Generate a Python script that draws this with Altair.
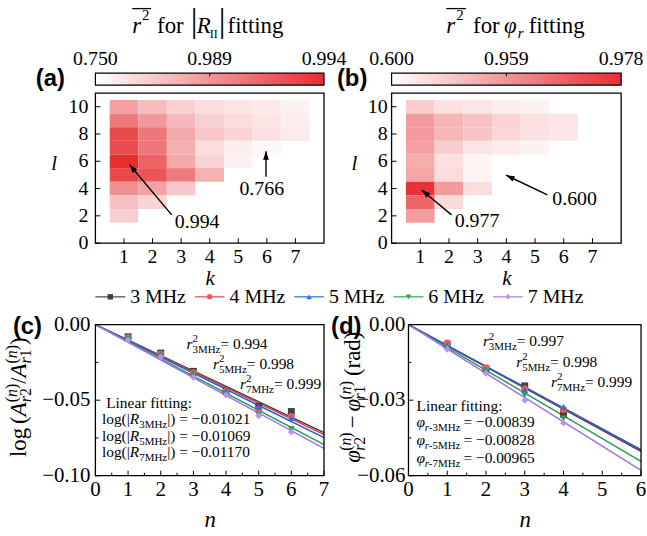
import math
import altair as alt
import pandas as pd

SERIF = "Liberation Serif"
SANS = "Liberation Sans"

# ---------------- data: heatmaps of mean r^2 (rows l = 10 ... 2, columns k = 1 ...) ----------------
k_vals = [1, 2, 3, 4, 5, 6, 7]
l_vals = [10, 9, 8, 7, 6, 5, 4, 3, 2]
l_ticks = [0, 2, 4, 6, 8, 10]
heat_a = [
    [0.960, 0.898, 0.855, 0.826, 0.812, 0.798, 0.779],
    [0.9903, 0.979, 0.908, 0.855, 0.831, 0.812, 0.788],
    [0.9926, 0.9904, 0.941, 0.874, 0.846, 0.817, 0.798],
    [0.9925, 0.9905, 0.927, 0.826, 0.788, 0.766],
    [0.994, 0.9914, 0.941, 0.846, 0.779],
    [0.9927, 0.9921, 0.9903, 0.927],
    [0.9893, 0.960, 0.874],
    [0.889, 0.846],
    [0.855],
]
heat_b = [
    [0.772, 0.701, 0.686, 0.657, 0.643],
    [0.937, 0.844, 0.808, 0.744, 0.708, 0.686],
    [0.937, 0.844, 0.794, 0.736, 0.701, 0.679],
    [0.916, 0.772, 0.693, 0.672, 0.643],
    [0.880, 0.701, 0.636],
    [0.902, 0.722, 0.636],
    [0.977, 0.937, 0.715],
    [0.9674, 0.729],
    [0.930],
]
cbar_a_ticks = [0.750, 0.989, 0.994]
cbar_b_ticks = [0.600, 0.959, 0.978]

# ---------------- data: decay curves ----------------
freqs = ["3 MHz", "4 MHz", "5 MHz", "6 MHz", "7 MHz"]
n_c = [1, 2, 3, 4, 5, 6]
c_data = {
    "3 MHz": [-0.0080, -0.0188, -0.0309, -0.0439, -0.0541, -0.0575],
    "4 MHz": [-0.0085, -0.0195, -0.0318, -0.0440, -0.0560, -0.0607],
    "5 MHz": [-0.0090, -0.0200, -0.0322, -0.0435, -0.0544, -0.0618],
    "6 MHz": [-0.0095, -0.0208, -0.0340, -0.0461, -0.0597, -0.0691],
    "7 MHz": [-0.0102, -0.0215, -0.0349, -0.0465, -0.0603, -0.0710],
}
c_slopes = [-0.01021, -0.01040, -0.01069, -0.01135, -0.01170]
c_r2 = ["0.994", "0.998", "0.999"]

n_d = [1, 2, 3, 4]
d_data = {
    "3 MHz": [-0.0078, -0.0175, -0.0243, -0.0356],
    "4 MHz": [-0.0073, -0.0171, -0.0255, -0.0337],
    "5 MHz": [-0.0082, -0.0177, -0.0260, -0.0327],
    "6 MHz": [-0.0093, -0.0183, -0.0280, -0.0373],
    "7 MHz": [-0.0098, -0.0193, -0.0300, -0.0391],
}
d_slopes = [-0.00839, -0.00832, -0.00828, -0.00905, -0.00965]
d_r2 = ["0.997", "0.998", "0.999"]

labelled = ["3MHz", "5MHz", "7MHz"]          # the three fits written on the panels
labelled_idx = [0, 2, 4]

# ---------------- styles ----------------
line_colors = ["#3a3a3a", "#e83a3a", "#1c5fd8", "#2a9d52", "#a56fe8"]
marker_colors = ["#404040", "#ef5a5a", "#2e6fe3", "#2ea35a", "#b98ff0"]
shapes = ["square", "circle", "triangle-up", "triangle-down", "diamond"]
HEAT_RANGE = ["#ffffff", "#f29496", "#e62e31"]
GRAD = alt.LinearGradient(
    gradient="linear", x1=0, x2=1, y1=0, y2=0,
    stops=[alt.GradientStop(color="#ffffff", offset=0),
           alt.GradientStop(color="#f29496", offset=0.5),
           alt.GradientStop(color="#e62e31", offset=1)])
ARROW = "M0,0L0.65,1.9L-0.65,1.9Z"

ONE = pd.DataFrame({"z": [0]})

W_UP = {" ": 250, "(": 333, ")": 333, "|": 200, "-": 333, "=": 564, "\u2212": 564, "/": 278,
        ".": 250, ":": 278, "A": 722, "H": 722, "I": 333, "L": 611, "M": 889, "R": 667,
        "a": 444, "d": 500, "e": 444, "f": 333, "g": 500, "i": 278, "k": 500, "l": 278,
        "n": 500, "o": 500, "r": 333, "s": 389, "t": 278, "z": 444}
W_IT = {"r": 389, "A": 611, "R": 611, "n": 500, "\u03c6": 520, "k": 444, "l": 278}

AX = dict(labels=False, domain=False, ticks=False, grid=False)


def row(**kw):
    return pd.DataFrame({k: [v] for k, v in kw.items()})


def qx(f, noaxis=False, **kw):
    if noaxis:
        kw["axis"] = None
    return alt.X(f"{f}:Q", **kw)


def qy(f, noaxis=False, **kw):
    if noaxis:
        kw["axis"] = None
    return alt.Y(f"{f}:Q", **kw)


def tw(t, s, it):
    tab = W_IT if it else W_UP
    return sum(tab.get(c, 500) for c in t) * s / 1000.0


def layout(items):
    out, x = [], 0.0
    for item in items:
        if item[0] == "gap":
            x += item[1]
        elif item[0] == "stack":
            w = 0.0
            for grp in item[1:]:
                gx = x
                for (t, s, it, dy) in grp:
                    out.append((t, s, it, gx, dy))
                    gx += tw(t, s, it)
                w = max(w, gx - x)
            x += w
        else:
            _, t, s, it, dy = item
            out.append((t, s, it, x, dy))
            x += tw(t, s, it)
    return out, x


def text_piece(t, s, it, dx, dy, where, angle=0):
    props = dict(text=t, font=SERIF, fontSize=s, fontStyle="italic" if it else "normal",
                 align="left", baseline="alphabetic", dx=round(dx, 1), dy=dy, color="black")
    if angle:
        props["angle"] = angle
    mode, a, b = where
    if mode == "data":
        return alt.Chart(row(a=a, b=b)).mark_text(**props).encode(x=qx("a"), y=qy("b"))
    return alt.Chart(ONE).mark_text(**props).encode(x=alt.value(a), y=alt.value(b))


def compose(items, where, angle=0, center=False):
    pieces, total = layout(items)
    off = -total / 2.0 if center else 0.0
    return [text_piece(t, s, it, dx + off, dy, where, angle) for t, s, it, dx, dy in pieces]


def frame(x0, x1, y0, y1):
    return alt.Chart(row(a=x0, b=x1, c=y0, d=y1)).mark_rect(
        fillOpacity=0, stroke="black", strokeWidth=1.3).encode(
        x=qx("a"), x2="b", y=qy("c"), y2="d")


def box(x0, x1, y0, y1, noaxis=False):
    # white 1-px box used to pin the page origin
    return alt.Chart(row(a=x0, b=x1, c=y0, d=y1)).mark_rect(fill="white", strokeWidth=0).encode(
        x=qx("a", noaxis), x2="b", y=qy("c", noaxis), y2="d")


def xticks(vals, y0, size):
    return alt.Chart(pd.DataFrame({"t": vals, "b": [y0] * len(vals)})).mark_rule(
        color="black", strokeWidth=1, y2Offset=-size).encode(x=qx("t"), y=qy("b"), y2="b")


def yticks(vals, x0, size):
    return alt.Chart(pd.DataFrame({"t": vals, "b": [x0] * len(vals)})).mark_rule(
        color="black", strokeWidth=1, x2Offset=size).encode(y=qy("t"), x=qx("b"), x2="b")


def num_label(v, dec):
    if dec == 0:
        return f"{v:d}"
    s = f"{abs(v):.{dec}f}"
    return ("\u2212" + s) if v < 0 else s


def xlabels(vals, dec, y0, pad, size):
    df = pd.DataFrame({"t": vals, "lab": [num_label(v, dec) for v in vals], "b": [y0] * len(vals)})
    return alt.Chart(df).mark_text(baseline="top", align="center", dy=pad, fontSize=size,
                                   color="black").encode(x=qx("t"), y=qy("b"), text="lab:N")


def ylabels(vals, dec, x0, pad, size):
    df = pd.DataFrame({"t": vals, "lab": [num_label(v, dec) for v in vals], "b": [x0] * len(vals)})
    return alt.Chart(df).mark_text(baseline="middle", align="right", dx=-pad, fontSize=size,
                                   color="black").encode(y=qy("t"), x=qx("b"), text="lab:N")


def plabel(txt, x, y):
    return alt.Chart(ONE).mark_text(text=txt, font=SANS, fontWeight="bold", fontSize=24,
                                    align="left", baseline="middle", color="black").encode(
        x=alt.value(x), y=alt.value(y))


# ---------------- colorbars ----------------
def cbar_panel(ticks, width, title_pieces, title_x, over, plab, plab_x, pin=False):
    pos = [i / (len(ticks) - 1) for i in range(len(ticks))]
    labs = pd.DataFrame({"p": pos, "lab": [f"{t:.3f}" for t in ticks], "b": [1] * len(ticks)})
    xsc = alt.Scale(domain=[0, 1], nice=False, zero=False)
    ysc = alt.Scale(domain=[0, 1], nice=False, zero=False)
    bar = alt.Chart(row(a=0, b=1, c=0, d=1)).mark_rect(fill=GRAD, stroke="black", strokeWidth=1.2).encode(
        x=qx("a", True, scale=xsc), x2="b", y=qy("c", True, scale=ysc), y2="d")
    mid = alt.Chart(row(a=0.5, b=1)).mark_rule(color="black", strokeWidth=1, y2Offset=3).encode(
        x=qx("a", True), y=qy("b", True), y2="b")
    text = alt.Chart(labs).mark_text(fontSize=20, baseline="alphabetic", dy=-8, color="black").encode(
        x=qx("p", True), y=qy("b", True), text="lab:N")
    title = [text_piece(t, s, it, dx, dy, ("value", title_x, -40)) for t, s, it, dx, dy in title_pieces]
    overline = alt.Chart(row(a=over[0] / width, b=over[1] / width, c=1 + 65 / 12.0)).mark_rule(
        color="black", strokeWidth=1.3).encode(x=qx("a", True), x2="b", y=qy("c", True))
    layers = [bar, mid, text, overline, plabel(plab, plab_x, 6)] + title
    if pin:
        layers.append(box(0, 1.0 / width, 1 + 71 / 12.0, 1 + 72 / 12.0, noaxis=True))
    return alt.layer(*layers).properties(width=width, height=12)


title_a = [("r", 23, True, 0, 0), ("2", 15, False, 10, -14), ("for", 23, False, 25, 0),
           ("|", 34, False, 59, -1), ("R", 23, True, 65, 0), ("II", 12, False, 78, 5),
           ("|", 34, False, 87, -1), ("fitting", 23, False, 96, 0)]
title_b = [("r", 23, True, 0, 0), ("2", 15, False, 10, -14), ("for", 23, False, 27, 0),
           ("\u03c6", 23, True, 58, 0), ("r", 15, True, 72, 5), ("fitting", 23, False, 83, 0)]

cbA = cbar_panel(cbar_a_ticks, 230, title_a, 37, (37, 56), "(a)", -60, pin=True)
cbB = cbar_panel(cbar_b_ticks, 231, title_b, 55, (55, 75), "(b)", -55)


# ---------------- heatmaps ----------------
def heat_panel(rows, ticks, width, ylab_pad, ytitle_x, arrows, notes):
    df = pd.DataFrame([{"k": k, "l": l, "r2": v}
                       for l, row_ in zip(l_vals, rows) for k, v in zip(k_vals, row_)])
    xsc = alt.Scale(domain=[0, 8], nice=False, zero=False)
    ysc = alt.Scale(domain=[0, 11], nice=False, zero=False)
    cells = alt.Chart(df).transform_calculate(
        k0="datum.k - 0.5", k1="datum.k + 0.5", l0="datum.l - 0.5", l1="datum.l + 0.5"
    ).mark_rect(strokeWidth=0).encode(
        x=alt.X("k0:Q", scale=xsc, axis=alt.Axis(
            values=k_vals, title="k", titleFontSize=21, titleFontStyle="italic", titleY=42,
            titleBaseline="alphabetic", **AX)),
        x2="k1:Q",
        y=alt.Y("l0:Q", scale=ysc, axis=alt.Axis(
            values=l_ticks, title="l", titleFontSize=21, titleFontStyle="italic", titleAngle=0,
            titleX=ytitle_x, titleY=71, titleBaseline="middle", titleAlign="center", **AX)),
        y2="l1:Q",
        color=alt.Color("r2:Q", scale=alt.Scale(domain=ticks, range=HEAT_RANGE, interpolate="rgb"),
                        legend=None),
    )
    layers = [cells, frame(0, 8, 0, 11), xticks(k_vals, 0, 5), yticks(l_ticks, 0, 5),
              xlabels(k_vals, 0, 0, 4, 20), ylabels(l_ticks, 0, 0, ylab_pad, 20)]
    pxk, pxl = width / 8.0, 151 / 11.0
    for (k0, l0, k1, l1) in arrows:
        ang = math.degrees(math.atan2((k1 - k0) * pxk, (l1 - l0) * pxl)) % 360
        layers.append(alt.Chart(row(a=k0, b=l0, c=k1, d=l1)).mark_rule(color="black", strokeWidth=1.4).encode(
            x=qx("a"), y=qy("b"), x2="c", y2="d"))
        layers.append(alt.Chart(row(a=k1, b=l1)).mark_point(
            shape=ARROW, filled=True, color="black", size=81, opacity=1,
            angle=round(ang, 1), strokeWidth=0).encode(x=qx("a"), y=qy("b")))
    for (txt, k, l) in notes:
        layers.append(alt.Chart(row(a=k, b=l)).mark_text(
            text=txt, fontSize=20, align="left", baseline="alphabetic", color="black").encode(
            x=qx("a"), y=qy("b")))
    return alt.layer(*layers).properties(width=width, height=151)


heatA = heat_panel(heat_a, cbar_a_ticks, 230, 7, -42,
                   arrows=[(2.67, 2.07, 1.19, 5.76), (5.97, 4.86, 5.97, 6.73)],
                   notes=[("0.994", 2.78, 1.13), ("0.766", 5.04, 3.53)])
heatB = heat_panel(heat_b, cbar_b_ticks, 231, 4, -38,
                   arrows=[(2.09, 2.07, 1.05, 3.89), (5.43, 3.53, 3.99, 4.98)],
                   notes=[("0.977", 2.2, 1.2), ("0.600", 5.6, 2.8)])

# ---------------- legend row ----------------
leg_base = alt.Chart(pd.DataFrame({"series": freqs})).transform_window(i="row_number()")
lx = alt.X("i:Q", scale=alt.Scale(domain=[1, len(freqs)], range=[15, 415], nice=False, zero=False),
           axis=None)
leg_lines = leg_base.mark_rule(xOffset=-15, x2Offset=15, strokeWidth=1.6, opacity=0.7).encode(
    x=lx, x2="i", y=alt.value(46),
    color=alt.Color("series:N", scale=alt.Scale(domain=freqs, range=line_colors), legend=None))
leg_pts = leg_base.mark_point(filled=True, size=30, opacity=1).encode(
    x=lx, y=alt.value(46),
    color=alt.Color("series:N", scale=alt.Scale(domain=freqs, range=marker_colors), legend=None),
    shape=alt.Shape("series:N", scale=alt.Scale(domain=freqs, range=shapes), legend=None))
leg_txt = leg_base.mark_text(align="left", baseline="middle", fontSize=20, dx=20,
                             color="black").encode(x=lx, y=alt.value(46), text="series:N")
legend_chart = alt.layer(leg_lines, leg_pts, leg_txt).resolve_scale(color="independent").properties(
    width=230, height=66)
dummy = alt.Chart(ONE).mark_point(opacity=0).encode(x=alt.value(0), y=alt.value(0)).properties(
    width=231, height=66)


# ---------------- curve panels ----------------
def curve_panel(data, n_vals, slopes, xmax, ymin, ymaj, yminor, width, shift, ylab_pad,
                r2_vals, r2_pos, fit_pos, fit_lines, ytitle_items, ytitle_x, plab, plab_x, pin=False):
    xdom_min = -shift * xmax / (width - shift)
    ppu = width / (xmax - xdom_min)
    xsc = alt.Scale(domain=[xdom_min, xmax], nice=False, zero=False)
    ysc = alt.Scale(domain=[ymin, 0], nice=False, zero=False)
    df = pd.DataFrame([{"series": f, "n": n, "v": v}
                       for f in freqs for n, v in zip(n_vals, data[f])])
    fit = pd.DataFrame({"series": freqs, "slope": slopes})
    fits = alt.Chart(fit).transform_calculate(e0="0", e1=str(xmax)).transform_fold(
        ["e0", "e1"], as_=["end", "nn"]).transform_calculate(yy="datum.slope * datum.nn").mark_line(
        strokeWidth=1.5).encode(
        x=qx("nn"), y=qy("yy"), detail="series:N",
        stroke=alt.Stroke("series:N", scale=alt.Scale(domain=freqs, range=line_colors), legend=None))
    xt = list(range(xmax + 1))
    pts = alt.Chart(df).mark_point(filled=True, size=48, opacity=1).encode(
        x=alt.X("n:Q", scale=xsc, axis=alt.Axis(
            values=xt, title="n", titleFontSize=23, titleFontStyle="italic", titleY=51,
            titleBaseline="alphabetic", titleX=shift + (width - shift) / 2, **AX)),
        y=alt.Y("v:Q", scale=ysc, axis=alt.Axis(values=ymaj, title=None, **AX)),
        color=alt.Color("series:N", scale=alt.Scale(domain=freqs, range=marker_colors), legend=None),
        shape=alt.Shape("series:N", scale=alt.Scale(domain=freqs, range=shapes), legend=None))
    halves = [i + 0.5 for i in range(xmax)]
    layers = [fits, pts, frame(0, xmax, ymin, 0),
              xticks(xt, ymin, 5), xticks(halves, ymin, 3),
              yticks(ymaj, 0, 5), yticks(yminor, 0, 3),
              xlabels(xt, 0, ymin, 3, 21), ylabels(ymaj, 2, 0, ylab_pad, 21)]
    if pin:
        layers.append(box(xdom_min - 95 / ppu, xdom_min - 94 / ppu, ymin / 2, ymin / 2 + 0.0005))
    for lab, val, (nx, yb) in zip(labelled, r2_vals, r2_pos):
        items = [("t", "r", 15.5, True, 0),
                 ("stack", [("2", 11, False, -7)], [(lab, 11, False, 4)]),
                 ("t", "= " + val, 15.5, False, 0)]
        layers += compose(items, ("data", nx, yb))
    layers += compose([("t", "Linear fitting:", 15.5, False, 0)], ("data", fit_pos[0], fit_pos[1]))
    for items, yb in fit_lines:
        layers += compose(items, ("data", fit_pos[2], yb))
    layers += compose(ytitle_items, ("value", ytitle_x, 73), angle=270, center=True)
    layers.append(plabel(plab, plab_x, 2))
    return alt.layer(*layers).properties(width=width, height=152)


def fmt_slope(s):
    return f"{s:.5f}".replace("-", "\u2212")


S, s2, SUP, SUB = 23, 16, -9, 5
sup_n = [("(", s2, False, SUP), ("n", s2, True, SUP), (")", s2, False, SUP)]
c_title = [("t", "log", S, False, 0), ("gap", 4), ("t", "(", S, False, 0), ("t", "A", S, True, 0),
           ("stack", sup_n, [("r", s2, True, SUB), ("2", s2, False, SUB)]),
           ("t", "/", S, False, 0), ("t", "A", S, True, 0),
           ("stack", sup_n, [("r", s2, True, SUB), ("1", s2, False, SUB)]),
           ("t", ")", S, False, 0)]
d_title = [("t", "\u03c6", S, True, 0),
           ("stack", sup_n, [("r", s2, True, SUB), ("2", s2, False, SUB)]),
           ("gap", 4), ("t", "\u2212", S, False, 0), ("gap", 4), ("t", "\u03c6", S, True, 0),
           ("stack", sup_n, [("r", s2, True, SUB), ("1", s2, False, SUB)]),
           ("gap", 5), ("t", "(rad)", S, False, 0)]

c_fit_lines = []
for lab, i, yb in zip(labelled, labelled_idx, [-0.0658, -0.0768, -0.0877]):
    c_fit_lines.append(([("t", "log(|", 15.5, False, 0), ("t", "R", 15.5, True, 0),
                         ("t", lab, 11, False, 4),
                         ("t", "|) = " + fmt_slope(c_slopes[i]), 15.5, False, 0)], yb))
d_fit_lines = []
for lab, i, yb in zip(labelled, labelled_idx, [-0.0405, -0.0477, -0.0549]):
    d_fit_lines.append(([("t", "\u03c6", 15.5, True, 0), ("t", "r", 11, True, 4),
                         ("t", "-" + lab, 11, False, 4), ("gap", 3),
                         ("t", "= " + fmt_slope(d_slopes[i]), 15.5, False, 0)], yb))

cC = curve_panel(c_data, n_c, c_slopes, 7, -0.10, [0, -0.05, -0.10], [-0.025, -0.075], 230, 0, 5,
                 c_r2, [(2.79, -0.0164), (3.60, -0.0296), (4.43, -0.0428)],
                 (0.33, -0.0553, 0.2), c_fit_lines, c_title, -70, "(c)", -83, pin=True)
cD = curve_panel(d_data, n_d, d_slopes, 6, -0.06, [0, -0.03, -0.06], [-0.015, -0.045], 251, 17, 3,
                 d_r2, [(1.92, -0.00868), (2.78, -0.01667), (3.68, -0.02467)],
                 (0.21, -0.0343, 0.21), d_fit_lines, d_title, -32, "(d)", -61)

chart = alt.concat(
    cbA, cbB, heatA, heatB, legend_chart, dummy, cC, cD,
    columns=2, bounds="flush", align="each", spacing={"row": 8, "column": 68},
).resolve_scale(color="independent").properties(padding=0, background="white").configure(
    font=SERIF
).configure_view(strokeWidth=0).configure_axis(
    domain=False, ticks=False, grid=False, labels=False, titleFont=SERIF,
    titleColor="black", titleFontWeight="normal")

chart.save("out.html", embed_options={"renderer": "svg", "actions": False})
